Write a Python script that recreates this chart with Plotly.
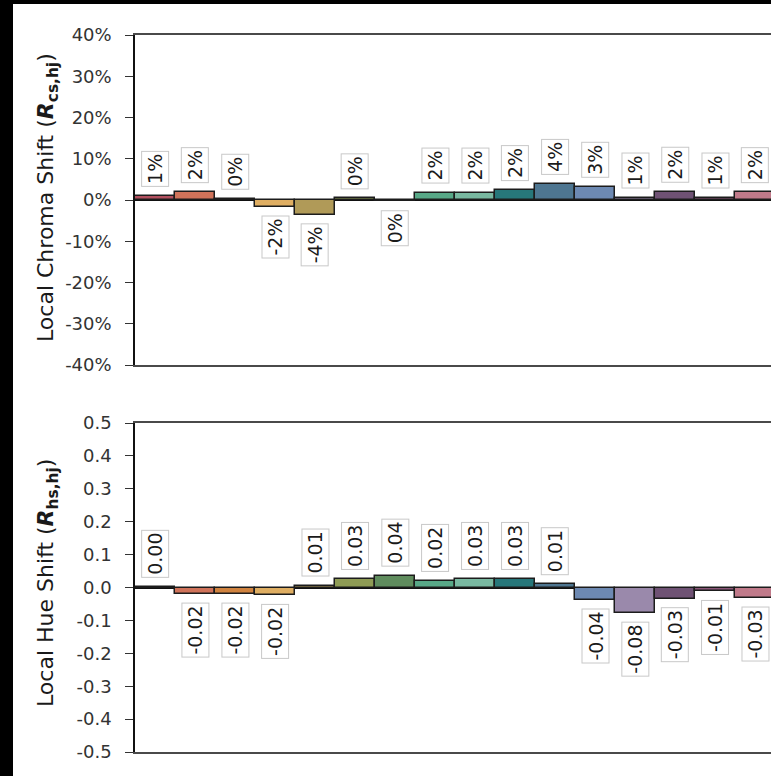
import plotly.graph_objects as go

# Hue-angle bins 1..16 (only the first part of the bin sequence is in view)
bins = [f"Bin {i}" for i in range(1, 17)]

# Local chroma shift per hue bin (fraction)
chroma_shift = [0.010, 0.019, 0.003, -0.017, -0.036, 0.004, -0.003, 0.018,
                0.018, 0.024, 0.039, 0.032, 0.006, 0.020, 0.006, 0.019]

# Local hue shift per hue bin
hue_shift = [0.002, -0.020, -0.020, -0.024, 0.006, 0.026, 0.036, 0.020,
             0.026, 0.026, 0.010, -0.038, -0.078, -0.034, -0.012, -0.032]

# Fill colour of each hue bin
bin_colors = ["#b3505f", "#d0735a", "#d0833f", "#dfae62", "#b09a58", "#8f9c55",
              "#5f8c5d", "#58a887", "#79b9a1", "#27777a", "#4e7691", "#6d89b2",
              "#9a89ab", "#6f5274", "#8b5678", "#c07a8a"]

chroma_ticks = [-0.4, -0.3, -0.2, -0.1, 0.0, 0.1, 0.2, 0.3, 0.4]
chroma_ticktext = ["-40%", "-30%", "-20%", "-10%", "0%", "10%", "20%", "30%", "40%"]
hue_ticks = [-0.5, -0.4, -0.3, -0.2, -0.1, 0.0, 0.1, 0.2, 0.3, 0.4, 0.5]
hue_ticktext = ["-0.5", "-0.4", "-0.3", "-0.2", "-0.1", "0.0", "0.1", "0.2", "0.3", "0.4", "0.5"]

FONT = "DejaVu Sans"
W, H = 771, 776
ML, MR, MT, MB = 135, 0, 35, 24
plot_w = W - ML - MR
plot_h = H - MT - MB


def px_x(p):
    return (p - ML) / plot_w


def px_y(q):
    return (H - MB - q) / plot_h


xs = list(range(len(bins)))
fig = go.Figure()

fig.add_trace(go.Bar(x=xs, y=chroma_shift, xaxis="x", yaxis="y", width=1,
                     marker=dict(color=bin_colors, line=dict(color="#1c1c1c", width=1.5)),
                     hoverinfo="skip"))
fig.add_trace(go.Bar(x=xs, y=hue_shift, xaxis="x2", yaxis="y2", width=1,
                     marker=dict(color=bin_colors, line=dict(color="#1c1c1c", width=1.5)),
                     hoverinfo="skip"))


def chroma_label(v):
    return f"{round(v * 100)}%"


def hue_label(v):
    return f"{v:.2f}"


annotations = []
for series, yref, fmt in ((chroma_shift, "y", chroma_label), (hue_shift, "y2", hue_label)):
    xref = "x" if yref == "y" else "x2"
    for i, v in enumerate(series):
        pos = v >= 0
        annotations.append(dict(
            x=i, y=v, xref=xref, yref=yref, text=fmt(v), showarrow=False,
            textangle=-90, yanchor="bottom" if pos else "top",
            yshift=9 if pos else -9,
            font=dict(family=FONT, size=19, color="#1a1a1a"),
            bgcolor="white", bordercolor="#c8c8c8", borderwidth=1, borderpad=2,
        ))

# Axis titles
annotations.append(dict(
    x=px_x(47), y=px_y(198), xref="paper", yref="paper", showarrow=False,
    textangle=-90, xanchor="center", yanchor="middle",
    text="Local Chroma Shift (<b><i>R</i><sub>cs,hj</sub></b>)",
    font=dict(family=FONT, size=22, color="#1a1a1a")))
annotations.append(dict(
    x=px_x(47), y=px_y(583), xref="paper", yref="paper", showarrow=False,
    textangle=-90, xanchor="center", yanchor="middle",
    text="Local Hue Shift (<b><i>R</i><sub>hs,hj</sub></b>)",
    font=dict(family=FONT, size=22, color="#1a1a1a")))

top_dom = [px_y(365), px_y(35)]
bot_dom = [px_y(752), px_y(423)]

xaxis_common = dict(range=[-0.5, -0.5 + plot_w / 40.0], showticklabels=False, ticks="",
                    showgrid=False, zeroline=False, showline=True, mirror=True,
                    linecolor="#4a4a4a", linewidth=1.5)
yaxis_common = dict(showgrid=False, zeroline=True, zerolinecolor="#111111", zerolinewidth=1.5,
                    showline=True, linecolor="#111111", linewidth=1.5,
                    ticks="outside", ticklen=8, tickcolor="#333333", tickwidth=1.2,
                    tickfont=dict(family=FONT, size=18, color="#333333"),
                    ticklabelstandoff=10)

fig.update_layout(
    width=W, height=H,
    margin=dict(l=ML, r=MR, t=MT, b=MB),
    paper_bgcolor="white", plot_bgcolor="white",
    showlegend=False, bargap=0,
    xaxis=dict(domain=[0, 1], anchor="y", **xaxis_common),
    xaxis2=dict(domain=[0, 1], anchor="y2", **xaxis_common),
    yaxis=dict(domain=top_dom, anchor="x", range=[-0.4, 0.4],
               tickvals=chroma_ticks, ticktext=chroma_ticktext, **yaxis_common),
    yaxis2=dict(domain=bot_dom, anchor="x2", range=[-0.5, 0.5],
                tickvals=hue_ticks, ticktext=hue_ticktext, **yaxis_common),
    annotations=annotations,
    shapes=[
        dict(type="rect", xref="paper", yref="paper", layer="above",
             x0=px_x(-2), x1=px_x(13), y0=px_y(H + 2), y1=px_y(-2),
             fillcolor="black", line=dict(width=0)),
        dict(type="rect", xref="paper", yref="paper", layer="above",
             x0=px_x(-2), x1=px_x(W + 2), y0=px_y(4), y1=px_y(-2),
             fillcolor="black", line=dict(width=0)),
    ],
)

fig.write_html("out.html")
